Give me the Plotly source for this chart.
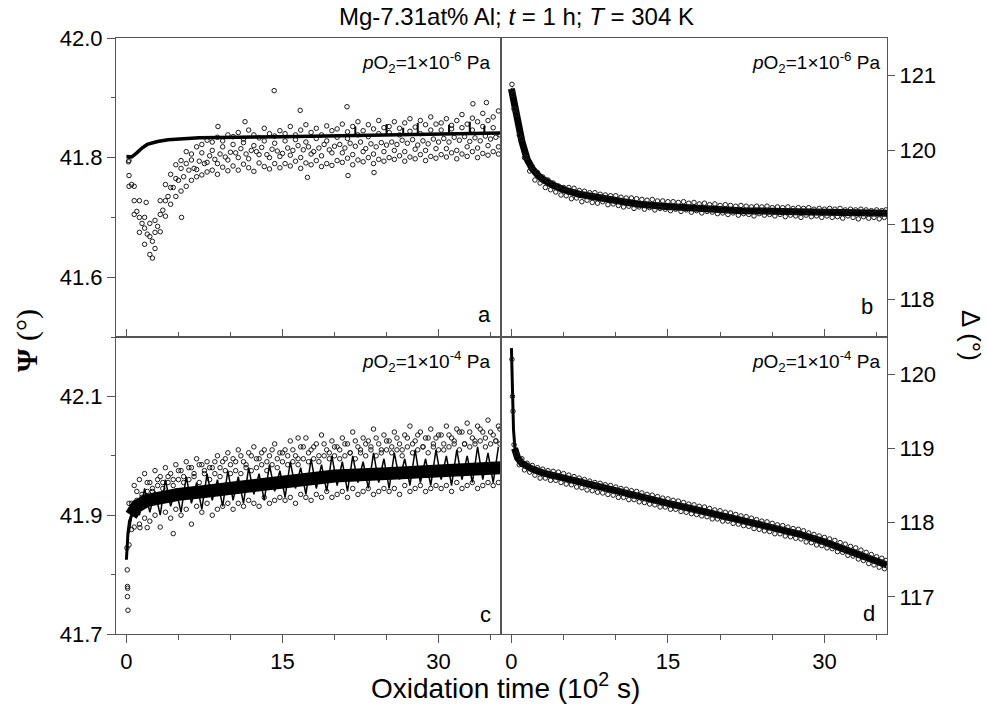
import plotly.graph_objects as go

# ---------------- data ----------------
TT = [0.25, 0.75, 1.25, 1.75, 2.25, 2.75, 3.25, 3.75, 4.25, 4.75,
      5.25, 5.75, 6.25, 6.75, 7.25, 7.75, 8.25, 8.75, 9.25, 9.75,
      10.25, 10.75, 11.25, 11.75, 12.25, 12.75, 13.25, 13.75, 14.25, 14.75,
      15.25, 15.75, 16.25, 16.75, 17.25, 17.75, 18.25, 18.75, 19.25, 19.75,
      20.25, 20.75, 21.25, 21.75, 22.25, 22.75, 23.25, 23.75, 24.25, 24.75,
      25.25, 25.75, 26.25, 26.75, 27.25, 27.75, 28.25, 28.75, 29.25, 29.75,
      30.25, 30.75, 31.25, 31.75, 32.25, 32.75, 33.25, 33.75, 34.25, 34.75, 35.25, 35.75]
TT2 = [0.5, 1.0, 1.5, 2.0, 2.5, 3.0, 3.5, 4.0, 4.5, 5.0,
       5.5, 6.0, 6.5, 7.0, 7.5, 8.0, 8.5, 9.0, 9.5, 10.0,
       10.5, 11.0, 11.5, 12.0, 12.5, 13.0, 13.5, 14.0, 14.5, 15.0,
       15.5, 16.0, 16.5, 17.0, 17.5, 18.0, 18.5, 19.0, 19.5, 20.0,
       20.5, 21.0, 21.5, 22.0, 22.5, 23.0, 23.5, 24.0, 24.5, 25.0,
       25.5, 26.0, 26.5, 27.0, 27.5, 28.0, 28.5, 29.0, 29.5, 30.0,
       30.5, 31.0, 31.5, 32.0, 32.5, 33.0, 33.5, 34.0, 34.5, 35.0, 35.5, 35.9]

# panel a : Psi, pO2 = 1e-6 Pa
a_line_t = [0, 0.5, 1.0, 1.5, 2.0, 3.0, 4.0, 7.0, 15.0, 21.5, 28.0, 36.0]
a_line_v = [41.802, 41.801, 41.808, 41.816, 41.822, 41.827, 41.830, 41.833, 41.835, 41.837, 41.838, 41.841]
a_spk_t = [22.0, 22.0, None, 25.0, 25.0, None, 26.6, 26.6, None, 28.0, 28.0, None,
           31.0, 31.0, None, 33.0, 33.0, None, 34.4, 34.4]
a_spk_v = [41.837, 41.852, None, 41.838, 41.856, None, 41.838, 41.850, None, 41.838, 41.858, None,
           41.839, 41.855, None, 41.840, 41.860, None, 41.840, 41.853]
a_up = [41.795, 41.752, 41.728, 41.700, 41.690, 41.695, 41.728, 41.755, 41.772, 41.788,
        41.795, 41.810, 41.806, 41.818, 41.822, 41.829, 41.826, 41.834, 41.828, 41.838,
        41.835, 41.842, 41.831, 41.846, 41.838, 41.833, 41.849, 41.840, 41.836, 41.845,
        41.840, 41.852, 41.838, 41.846, 41.855, 41.842, 41.849, 41.838, 41.853, 41.845,
        41.848, 41.856, 41.843, 41.852, 41.860, 41.845, 41.855, 41.848, 41.862, 41.850,
        41.852, 41.860, 41.849, 41.858, 41.865, 41.851, 41.862, 41.855, 41.868, 41.856,
        41.858, 41.865, 41.854, 41.862, 41.872, 41.856, 41.866, 41.860, 41.874, 41.862, 41.868, 41.878]
a_mid = [41.755, 41.710, 41.690, 41.672, 41.660, 41.685, 41.712, 41.735, 41.750, 41.762,
         41.768, 41.779, 41.782, 41.794, 41.790, 41.803, 41.797, 41.806, 41.801, 41.809,
         41.808, 41.815, 41.806, 41.812, 41.810, 41.817, 41.805, 41.814, 41.811, 41.807,
         41.816, 41.812, 41.820, 41.813, 41.818, 41.810, 41.816, 41.822, 41.813, 41.819,
         41.822, 41.816, 41.824, 41.819, 41.826, 41.815, 41.823, 41.818, 41.825, 41.821,
         41.826, 41.822, 41.829, 41.824, 41.830, 41.821, 41.828, 41.823, 41.831, 41.826,
         41.832, 41.826, 41.834, 41.829, 41.835, 41.827, 41.833, 41.828, 41.836, 41.831, 41.834, 41.838]
a_mid2 = [41.770, 41.728, 41.700, 41.682, 41.668, 41.675, 41.705, 41.728, 41.750, 41.765,
          41.782, 41.790, 41.796, 41.780, 41.808, 41.792, 41.812, 41.790, 41.818, 41.796,
          41.822, 41.800, 41.825, 41.798, 41.820, 41.805, 41.828, 41.800, 41.824, 41.802,
          41.828, 41.804, 41.830, 41.800, 41.826, 41.806, 41.832, 41.803, 41.828, 41.808,
          41.834, 41.808, 41.832, 41.805, 41.838, 41.810, 41.835, 41.806, 41.840, 41.810,
          41.842, 41.812, 41.838, 41.810, 41.844, 41.814, 41.840, 41.812, 41.846, 41.815,
          41.846, 41.815, 41.848, 41.812, 41.850, 41.818, 41.846, 41.816, 41.852, 41.820, 41.850, 41.818]
a_low = [41.752, 41.705, 41.675, 41.655, 41.638, 41.648, 41.676, 41.702, 41.722, 41.735,
         41.744, 41.752, 41.762, 41.768, 41.771, 41.776, 41.779, 41.772, 41.784, 41.778,
         41.786, 41.779, 41.789, 41.783, 41.777, 41.791, 41.785, 41.781, 41.790, 41.783,
         41.790, 41.786, 41.794, 41.782, 41.791, 41.788, 41.795, 41.785, 41.790, 41.787,
         41.795, 41.792, 41.799, 41.788, 41.796, 41.793, 41.800, 41.790, 41.797, 41.794,
         41.800, 41.797, 41.803, 41.794, 41.801, 41.798, 41.805, 41.795, 41.802, 41.799,
         41.805, 41.801, 41.808, 41.798, 41.806, 41.802, 41.810, 41.800, 41.807, 41.804, 41.810, 41.806]
a_out_t = [0.2, 1.9, 2.5, 5.3, 8.8, 11.4, 14.2, 16.7, 17.4, 21.2, 21.3, 23.8, 33.3, 34.6]
a_out_v = [41.793, 41.725, 41.632, 41.700, 41.852, 41.860, 41.912, 41.879, 41.767, 41.885, 41.770, 41.775, 41.890, 41.892]

# panel b : Delta, pO2 = 1e-6 Pa
b_line_t = [0, 0.3, 0.6, 1.0, 1.5, 2.0, 2.5, 3.0, 4.0, 5.0, 6.5, 8.0, 10, 12, 14.5, 18, 22, 26, 30, 33, 36]
b_line_v = [120.82, 120.60, 120.40, 120.12, 119.88, 119.75, 119.67, 119.61, 119.53, 119.47, 119.41,
            119.37, 119.32, 119.28, 119.25, 119.22, 119.19, 119.18, 119.17, 119.16, 119.155]
b_low = [120.55, 120.20, 119.90, 119.72, 119.60, 119.56, 119.50, 119.47, 119.44, 119.40,
         119.39, 119.35, 119.36, 119.31, 119.33, 119.30, 119.29, 119.31, 119.27, 119.28,
         119.26, 119.24, 119.25, 119.22, 119.24, 119.21, 119.23, 119.20, 119.22, 119.21,
         119.19, 119.21, 119.18, 119.20, 119.17, 119.19, 119.16, 119.18, 119.17, 119.15,
         119.16, 119.14, 119.16, 119.13, 119.15, 119.14, 119.12, 119.15, 119.13, 119.14,
         119.12, 119.14, 119.11, 119.13, 119.12, 119.10, 119.13, 119.11, 119.12, 119.10,
         119.12, 119.10, 119.11, 119.09, 119.12, 119.10, 119.08, 119.11, 119.09, 119.10, 119.08, 119.10]
b_up = [120.48, 120.15, 119.90, 119.78, 119.70, 119.64, 119.60, 119.56, 119.52, 119.50,
        119.50, 119.49, 119.46, 119.45, 119.43, 119.43, 119.41, 119.40, 119.39, 119.39,
        119.37, 119.36, 119.36, 119.35, 119.34, 119.33, 119.34, 119.32, 119.32, 119.31,
        119.31, 119.30, 119.31, 119.29, 119.30, 119.28, 119.29, 119.27, 119.28, 119.26,
        119.27, 119.26, 119.25, 119.26, 119.25, 119.24, 119.25, 119.24, 119.25, 119.23,
        119.24, 119.23, 119.24, 119.22, 119.23, 119.22, 119.23, 119.21, 119.22, 119.21,
        119.22, 119.21, 119.22, 119.20, 119.21, 119.20, 119.21, 119.20, 119.19, 119.20, 119.19, 119.20]
b_out_t = [0.05, 0.1, 0.15, 0.35]
b_out_v = [120.88, 120.80, 120.74, 120.55]

# panel c : Psi, pO2 = 1e-4 Pa
c_rise_t = [0, 0.15, 0.3, 0.6]
c_rise_v = [41.825, 41.870, 41.890, 41.905]
c_line_t = [0.45, 0.6, 1, 2, 3, 5, 7.5, 10, 12.5, 15, 17.5, 20, 25, 30, 36]
c_line_v = [41.900, 41.905, 41.915, 41.925, 41.930, 41.935, 41.940, 41.946,
            41.952, 41.958, 41.963, 41.966, 41.970, 41.974, 41.980]
c_zig = [41.870, 41.925, 41.900, 41.945, 41.905, 41.940, 41.900, 41.960, 41.915, 41.945,
         41.905, 41.965, 41.920, 41.955, 41.910, 41.970, 41.925, 41.960, 41.915, 41.975,
         41.925, 41.965, 41.920, 41.980, 41.935, 41.970, 41.925, 41.985, 41.940, 41.975,
         41.930, 41.990, 41.945, 41.980, 41.935, 41.995, 41.945, 41.985, 41.940, 42.000,
         41.950, 41.990, 41.940, 42.000, 41.955, 41.990, 41.945, 42.005, 41.955, 41.995,
         41.945, 42.005, 41.960, 41.995, 41.950, 42.010, 41.955, 41.995, 41.950, 42.010,
         41.960, 42.000, 41.950, 42.010, 41.960, 42.000, 41.955, 42.015, 41.960, 42.005, 41.955, 42.015]
c_up = [41.920, 41.950, 41.960, 41.970, 41.955, 41.975, 41.965, 41.980, 41.970, 41.985,
        41.975, 41.990, 41.980, 41.995, 41.985, 41.990, 41.980, 42.000, 41.990, 42.005,
        41.995, 42.010, 41.990, 42.005, 42.015, 41.995, 42.010, 42.000, 42.020, 42.005,
        42.010, 42.025, 42.000, 42.015, 42.030, 42.010, 42.020, 42.035, 42.010, 42.025,
        42.015, 42.030, 42.020, 42.040, 42.015, 42.030, 42.025, 42.045, 42.020, 42.035,
        42.025, 42.040, 42.020, 42.035, 42.050, 42.025, 42.040, 42.030, 42.045, 42.030,
        42.035, 42.050, 42.030, 42.045, 42.040, 42.055, 42.030, 42.050, 42.040, 42.060, 42.035, 42.050]
c_mid = [41.920, 41.925, 41.935, 41.940, 41.945, 41.950, 41.945, 41.955, 41.950, 41.960,
         41.955, 41.960, 41.965, 41.955, 41.970, 41.960, 41.970, 41.965, 41.975, 41.970,
         41.975, 41.970, 41.980, 41.975, 41.980, 41.985, 41.975, 41.985, 41.980, 41.990,
         41.985, 41.990, 41.985, 41.995, 41.990, 41.995, 41.990, 42.000, 41.995, 42.000,
         41.995, 42.000, 42.005, 41.995, 42.005, 42.000, 42.010, 42.000, 42.005, 42.010,
         42.005, 42.010, 42.000, 42.015, 42.005, 42.010, 42.015, 42.005, 42.015, 42.010,
         42.010, 42.015, 42.020, 42.010, 42.020, 42.015, 42.020, 42.025, 42.015, 42.020, 42.025, 42.020]
c_mid2 = [41.905, 41.940, 41.930, 41.955, 41.940, 41.960, 41.955, 41.965, 41.960, 41.975,
          41.965, 41.980, 41.970, 41.985, 41.975, 41.980, 41.990, 41.980, 41.995, 41.985,
          41.990, 42.000, 41.985, 42.000, 41.995, 42.005, 41.990, 42.010, 41.995, 42.005,
          42.000, 42.010, 41.995, 42.015, 42.005, 42.015, 42.000, 42.020, 42.005, 42.015,
          42.010, 42.020, 42.005, 42.025, 42.010, 42.020, 42.015, 42.030, 42.010, 42.025,
          42.015, 42.030, 42.010, 42.030, 42.020, 42.035, 42.015, 42.030, 42.020, 42.035,
          42.020, 42.035, 42.025, 42.040, 42.020, 42.040, 42.025, 42.045, 42.030, 42.040, 42.025, 42.045]
c_low = [41.850, 41.880, 41.885, 41.895, 41.890, 41.900, 41.880, 41.905, 41.895, 41.910,
         41.900, 41.910, 41.885, 41.915, 41.905, 41.920, 41.900, 41.910, 41.915, 41.920,
         41.910, 41.920, 41.915, 41.925, 41.920, 41.915, 41.930, 41.920, 41.925, 41.930,
         41.925, 41.930, 41.920, 41.935, 41.930, 41.925, 41.935, 41.930, 41.940, 41.930,
         41.935, 41.940, 41.930, 41.945, 41.935, 41.940, 41.945, 41.935, 41.940, 41.945,
         41.940, 41.945, 41.935, 41.950, 41.940, 41.945, 41.950, 41.940, 41.945, 41.950,
         41.945, 41.950, 41.940, 41.955, 41.945, 41.950, 41.955, 41.945, 41.950, 41.955, 41.950, 41.955]
c_out_t = [0.05, 0.08, 0.10, 0.12, 0.10, 0.15, 0.5, 1.3, 2.0, 4.5, 16.5]
c_out_v = [41.845, 41.808, 41.780, 41.777, 41.763, 41.740, 41.876, 41.879, 41.879, 41.869, 42.030]

# panel d : Delta, pO2 = 1e-4 Pa
d_drop_t = [0, 0.05, 0.1, 0.2, 0.35, 0.6]
d_drop_v = [120.35, 120.10, 119.80, 119.25, 118.98, 118.87]
d_line_t = [0.3, 0.6, 1, 2, 3, 5, 7.5, 10, 12.5, 15, 17.5, 20, 22.5, 25, 27.5, 30, 32.5, 36]
d_line_v = [119.00, 118.87, 118.80, 118.72, 118.67, 118.60, 118.50,
            118.42, 118.34, 118.26, 118.18, 118.10, 118.02, 117.93, 117.85, 117.74, 117.62, 117.43]
d_low = [119.05, 118.78, 118.71, 118.68, 118.64, 118.60, 118.60, 118.57, 118.57, 118.54,
         118.52, 118.51, 118.48, 118.47, 118.44, 118.43, 118.41, 118.40, 118.38, 118.37,
         118.34, 118.34, 118.31, 118.31, 118.28, 118.27, 118.25, 118.24, 118.21, 118.21,
         118.18, 118.18, 118.15, 118.14, 118.12, 118.11, 118.09, 118.08, 118.05, 118.05,
         118.02, 118.02, 117.99, 117.98, 117.96, 117.95, 117.92, 117.91, 117.89, 117.88,
         117.85, 117.85, 117.82, 117.81, 117.79, 117.78, 117.74, 117.73, 117.70, 117.69,
         117.66, 117.65, 117.61, 117.60, 117.56, 117.55, 117.51, 117.49, 117.45, 117.43, 117.40, 117.38]
d_up = [118.92, 118.86, 118.80, 118.77, 118.74, 118.72, 118.70, 118.69, 118.68, 118.66,
        118.64, 118.62, 118.60, 118.58, 118.56, 118.54, 118.53, 118.51, 118.50, 118.48,
        118.46, 118.45, 118.43, 118.42, 118.40, 118.38, 118.37, 118.35, 118.33, 118.32,
        118.30, 118.29, 118.27, 118.25, 118.24, 118.22, 118.21, 118.19, 118.17, 118.16,
        118.14, 118.13, 118.11, 118.09, 118.08, 118.06, 118.04, 118.02, 118.01, 117.99,
        117.97, 117.96, 117.94, 117.92, 117.91, 117.89, 117.86, 117.84, 117.82, 117.80,
        117.78, 117.76, 117.73, 117.71, 117.68, 117.66, 117.63, 117.60, 117.57, 117.54, 117.52, 117.49]
d_out_t = [0.05, 0.1, 0.15]
d_out_v = [120.20, 119.70, 119.50]

TITLE = "Mg-7.31at% Al; <i>t</i> = 1 h; <i>T</i> = 304 K"
XTITLE = "Oxidation time (10<sup>2</sup> s)"
P6 = "<i>p</i>O<sub>2</sub>=1×10<sup>-6</sup> Pa"
P4 = "<i>p</i>O<sub>2</sub>=1×10<sup>-4</sup> Pa"

# ---------------- figure ----------------
W, H = 988, 707
ML, MR, MT, MB = 116, 101, 38, 73
PW, PH = W - ML - MR, H - MT - MB
XS = 385 / PW
YS = 297 / PH
LC = "#555555"
SANS = "Liberation Sans, Arial, sans-serif"
SERIF = "Liberation Serif, Times New Roman, serif"

fig = go.Figure()

mk = dict(symbol="circle-open", size=4.5, color="#1a1a1a", line=dict(width=1, color="#1a1a1a"))


def circles(x, y, xa, ya):
    fig.add_trace(go.Scatter(x=x, y=y, mode="markers", marker=mk, xaxis=xa, yaxis=ya,
                             showlegend=False, hoverinfo="skip"))


def line(x, y, xa, ya, w):
    fig.add_trace(go.Scatter(x=x, y=y, mode="lines", line=dict(color="black", width=w),
                             xaxis=xa, yaxis=ya, showlegend=False, hoverinfo="skip",
                             connectgaps=False))


# panel a
circles(TT, a_up, "x3", "y3")
circles(TT2, a_mid, "x3", "y3")
circles(TT, a_mid2, "x3", "y3")
circles(TT, a_low, "x3", "y3")
circles(a_out_t, a_out_v, "x3", "y3")
line(a_line_t, a_line_v, "x3", "y3", 3.5)
line(a_spk_t, a_spk_v, "x3", "y3", 2)
# panel b
line(b_line_t, b_line_v, "x4", "y4", 7)
circles(TT, b_low, "x4", "y4")
circles(TT2, b_up, "x4", "y4")
circles(b_out_t, b_out_v, "x4", "y4")
# panel c
circles(TT, c_up, "x", "y")
circles(TT2, c_mid, "x", "y")
circles(TT2, c_mid2, "x", "y")
circles(TT, c_low, "x", "y")
circles(c_out_t, c_out_v, "x", "y")
line(c_rise_t, c_rise_v, "x", "y", 3)
line(c_line_t, c_line_v, "x", "y", 13)
line(TT, c_zig, "x", "y", 1.5)
# panel d
line(d_drop_t, d_drop_v, "x2", "y2", 3)
line(d_line_t, d_line_v, "x2", "y2", 7)
circles(TT, d_low, "x2", "y2")
circles(TT2, d_up, "x2", "y2")
circles(d_out_t, d_out_v, "x2", "y2")

tickfont = dict(family=SANS, size=22, color="black")


def xax(dom, anchor, bottom):
    d = dict(domain=dom, anchor=anchor, range=[-1, 36], tick0=0, dtick=15,
             showgrid=False, zeroline=False, showline=True, linecolor=LC, linewidth=1,
             mirror=True, ticklen=8, tickwidth=1, tickcolor=LC, tickfont=tickfont,
             minor=dict(dtick=5, tick0=0, ticklen=5, tickwidth=1, tickcolor=LC,
                        ticks="outside" if bottom else "inside"),
             ticks="outside" if bottom else "inside", showticklabels=bottom)
    return d


def yax(dom, anchor, rng, t0, dt, side, minor_dt=None, minor_t0=None, fmt=None):
    d = dict(domain=dom, anchor=anchor, range=rng, tick0=t0, dtick=dt, side=side,
             showgrid=False, zeroline=False, showline=True, linecolor=LC, linewidth=1,
             mirror=True, ticks="outside", ticklen=8 if side == "left" else 7,
             tickwidth=1, tickcolor=LC, tickfont=tickfont)
    if fmt:
        d["tickformat"] = fmt
    if minor_dt:
        d["minor"] = dict(dtick=minor_dt, tick0=minor_t0, ticklen=4, tickwidth=1,
                          tickcolor=LC, ticks="outside")
    return d


fig.update_layout(
    width=W, height=H,
    margin=dict(l=ML, r=MR, t=MT, b=MB, pad=0),
    paper_bgcolor="white", plot_bgcolor="white",
    showlegend=False,
    xaxis=xax([0, XS], "y", True),
    xaxis2=xax([XS, 1], "y2", True),
    xaxis3=xax([0, XS], "y3", False),
    xaxis4=xax([XS, 1], "y4", False),
    yaxis=yax([0, YS], "x", [41.7, 42.2], 41.7, 0.2, "left", 0.1, 41.7, ".1f"),
    yaxis2=yax([0, YS], "x2", [116.5, 120.5], 117, 1, "right"),
    yaxis3=yax([YS, 1], "x3", [41.5, 42.0], 41.6, 0.2, "left", 0.1, 41.5, ".1f"),
    yaxis4=yax([YS, 1], "x4", [117.5, 121.5], 118, 1, "right"),
)


def px2x(px):
    return (px - ML) / PW


def py2y(py):
    return (H - MB - py) / PH


ann = []
ann.append(dict(text=TITLE, x=px2x(337), y=py2y(17), xref="paper", yref="paper",
                xanchor="left", yanchor="middle", showarrow=False,
                font=dict(family=SANS, size=24, color="black")))
ann.append(dict(text=XTITLE, x=px2x(505), y=py2y(686), xref="paper", yref="paper",
                xanchor="center", yanchor="middle", showarrow=False,
                font=dict(family=SANS, size=28, color="black")))
ann.append(dict(text="<b>Ψ</b> (°)", x=px2x(27), y=py2y(341), xref="paper", yref="paper",
                xanchor="center", yanchor="middle", showarrow=False, textangle=-90,
                font=dict(family=SERIF, size=30, color="black")))
ann.append(dict(text="Δ (°)", x=px2x(971), y=py2y(335), xref="paper", yref="paper",
                xanchor="center", yanchor="middle", showarrow=False, textangle=90,
                font=dict(family=SANS, size=26, color="black")))
for txt, px, py in [(P6, 492, 62), (P6, 882, 62), (P4, 492, 361), (P4, 882, 361)]:
    ann.append(dict(text=txt, x=px2x(px), y=py2y(py), xref="paper", yref="paper",
                    xanchor="right", yanchor="middle", showarrow=False,
                    font=dict(family=SANS, size=19, color="black")))
for txt, px, py in [("a", 484, 314), ("b", 867, 306), ("c", 485, 614), ("d", 869, 613)]:
    ann.append(dict(text=txt, x=px2x(px), y=py2y(py), xref="paper", yref="paper",
                    xanchor="center", yanchor="middle", showarrow=False,
                    font=dict(family=SANS, size=22, color="black")))
fig.update_layout(annotations=ann)

fig.write_html("out.html")
